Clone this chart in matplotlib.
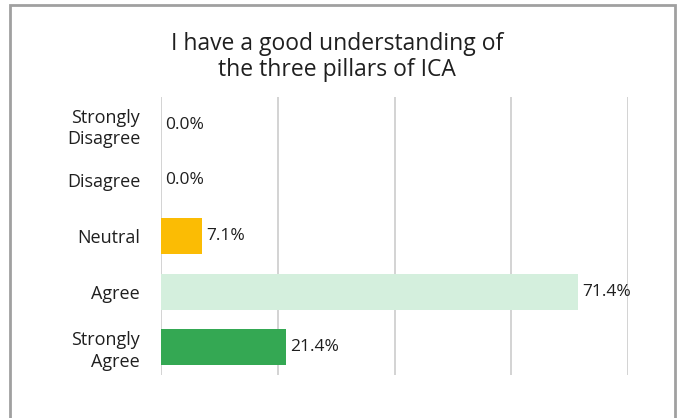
import matplotlib
matplotlib.use("Agg")
import matplotlib.pyplot as plt
from matplotlib.patches import Rectangle

# survey responses, top to bottom
categories = ["Strongly\nDisagree", "Disagree", "Neutral", "Agree", "Strongly\nAgree"]
percent = [0.0, 0.0, 7.1, 71.4, 21.4]
bar_colors = ["#9e9e9e", "#9e9e9e", "#fbbc04", "#d4efdd", "#34a853"]
x_ticks = [0, 20, 40, 60, 80]
title = "I have a good understanding of\nthe three pillars of ICA"

plt.rcParams["font.family"] = ["Open Sans", "DejaVu Sans"]
text_color = "#1f1f1f"

fig = plt.figure(figsize=(6.8, 4.18), dpi=100)
fig.patch.set_facecolor("white")

# outer card border
fig.add_artist(Rectangle((10 / 680, -0.05), 665 / 680, 1 - 5 / 418 + 0.05,
                         transform=fig.transFigure, fill=False,
                         edgecolor="#a0a0a0", linewidth=2))

ax = fig.add_axes([161 / 680, 1 - 375 / 418, (628 - 161) / 680, (375 - 97) / 418])

y = list(range(len(categories)))
ax.barh(y, percent, height=0.65, color=bar_colors, zorder=3)

for yi, v in zip(y, percent):
    ax.text(v + 0.7, yi, f"{v:.1f}%", va="center", ha="left",
            fontsize=12.5, color=text_color, zorder=4)

ax.set_xlim(0, 80)
ax.set_ylim(len(categories) - 0.5, -0.5)
ax.set_xticks(x_ticks)
ax.set_xticklabels([])
ax.set_yticks(y)
ax.set_yticklabels(categories, fontsize=13, color=text_color, ha="right",
                   multialignment="right", linespacing=1.25)
ax.tick_params(axis="both", length=0, pad=15)
ax.grid(axis="x", color="#cccccc", linewidth=1.2, zorder=0)
for s in ax.spines.values():
    s.set_visible(False)

fig.text(337 / 680, 1 - 57 / 418, title, ha="center", va="center",
         fontsize=16.5, color=text_color, linespacing=1.15)

fig.savefig("out.png", dpi=100, facecolor="white")
